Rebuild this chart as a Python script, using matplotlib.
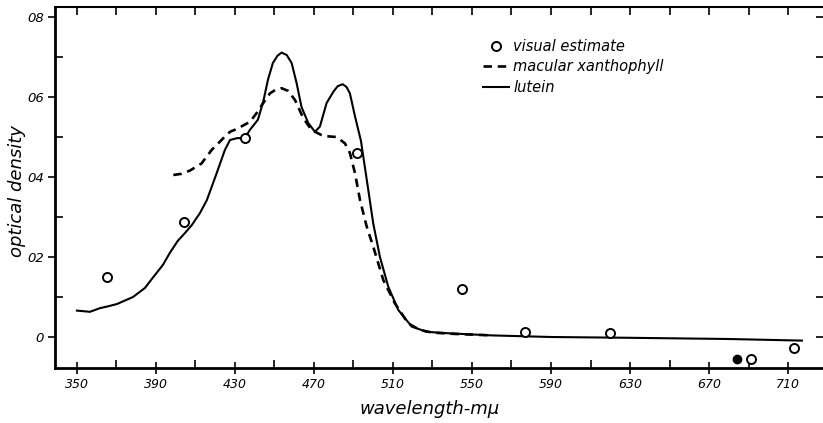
import numpy as np
import matplotlib.pyplot as plt
from matplotlib.ticker import FixedLocator

# lutein absorption (solid)
lutein_wl = [350, 356.6, 361.6, 366, 370.3, 378.4, 384.4, 388.7, 393.5, 397, 401,
             404.7, 408.2, 412.3, 415.8, 420.7, 424.9, 427.5, 430.9, 435, 437.6,
             441.6, 444.3, 446.7, 449.2, 451.5, 453.6, 456.2, 458.7, 461.2, 463.7,
             467.1, 470.5, 473, 476.4, 479.8, 482, 484.5, 486.5, 488.2, 490.8, 493.8,
             497.5, 500, 503.4, 507.6, 512.7, 519.5, 527, 539, 560, 590, 630, 680, 717]
lutein_od = [0.066, 0.063, 0.072, 0.077, 0.0825, 0.10, 0.1225, 0.15, 0.18, 0.21, 0.24,
             0.26, 0.28, 0.31, 0.3425, 0.409, 0.4675, 0.4925, 0.497, 0.4975, 0.518,
             0.543, 0.588, 0.643, 0.685, 0.703, 0.711, 0.705, 0.685, 0.635, 0.575,
             0.535, 0.513, 0.526, 0.585, 0.613, 0.627, 0.632, 0.625, 0.609, 0.551, 0.49,
             0.3675, 0.284, 0.20, 0.126, 0.0675, 0.026, 0.013, 0.009, 0.004, 0.0, -0.002, -0.005, -0.009]

# macular xanthophyll (dashed)
xanth_wl = [398.8, 403, 407.2, 413.1, 418.2, 424.1, 427.5, 430.9, 437.6, 441, 444.3,
            447.7, 450.5, 453.6, 457, 460.4, 464.6, 468.8, 474.7, 481.5, 485.7, 488.2,
            490.8, 493.3, 496.7, 500, 505.1, 511, 517.7, 523.7, 530, 540, 560]
xanth_od = [0.405, 0.408, 0.416, 0.434, 0.4675, 0.497, 0.513, 0.52, 0.538, 0.56, 0.585,
            0.609, 0.618, 0.622, 0.615, 0.5925, 0.547, 0.5175, 0.5025, 0.50, 0.484, 0.46,
            0.409, 0.3425, 0.276, 0.226, 0.1425, 0.084, 0.034, 0.0175, 0.011, 0.008, 0.004]

# visual estimate points
visual_wl = [365, 404, 435, 492, 545, 577, 620, 691, 713]
visual_od = [0.15, 0.288, 0.498, 0.46, 0.12, 0.013, 0.01, -0.055, -0.028]
filled_wl = [684]
filled_od = [-0.055]

x_ticks = [350, 390, 430, 470, 510, 550, 590, 630, 670, 710]
y_ticks = [0, 0.2, 0.4, 0.6, 0.8]
y_tick_labels = ["0", "02", "04", "06", "08"]

plt.rcParams['font.family'] = 'DejaVu Sans'
plt.rcParams['font.style'] = 'italic'

fig = plt.figure(figsize=(8.23, 4.23), dpi=100)
ax = fig.add_axes([55/823, 55/423, 768/823, 361/423])

ax.plot(lutein_wl, lutein_od, color='k', lw=1.5, label='lutein')
ax.plot(xanth_wl, xanth_od, color='k', lw=1.9, dashes=(3.2, 2.2), label='macular xanthophyll')
ax.plot(visual_wl, visual_od, 'o', ms=6.5, mfc='white', mec='k', mew=1.4, zorder=3,
        label='visual estimate')
ax.plot(filled_wl, filled_od, 'o', ms=6, color='k', zorder=3)

ax.set_xlim(338.9, 727.7)
ax.set_ylim(-0.0775, 0.825)

ax.xaxis.set_major_locator(FixedLocator(x_ticks))
ax.xaxis.set_minor_locator(FixedLocator([370 + 40*i for i in range(9)]))
ax.yaxis.set_major_locator(FixedLocator(y_ticks))
ax.yaxis.set_minor_locator(FixedLocator([0.1, 0.3, 0.5, 0.7]))
ax.set_yticklabels(y_tick_labels)

ax.tick_params(axis='x', which='major', direction='inout', length=8, width=1.2,
               labelsize=9, pad=3)
ax.tick_params(axis='x', which='minor', direction='in', length=6, width=1.2)
ax.tick_params(axis='y', which='major', direction='out', length=5, width=1.2,
               labelsize=9.5, pad=3)
ax.tick_params(axis='y', which='minor', direction='in', length=6, width=1.2)

ax.spines['left'].set_linewidth(2)
ax.spines['bottom'].set_linewidth(2)
ax.spines['top'].set_linewidth(1.5)
ax.spines['right'].set_visible(False)

# ticks along top and right edge
top = ax.secondary_xaxis('top')
top.xaxis.set_major_locator(FixedLocator(list(range(350, 711, 20))))
top.tick_params(direction='in', length=6, width=1.2, labeltop=False)
top.spines['top'].set_visible(False)
right = ax.secondary_yaxis('right')
right.yaxis.set_major_locator(FixedLocator([0.1*i for i in range(9)]))
right.tick_params(direction='in', length=5, width=1.2, labelright=False)
right.spines['right'].set_visible(False)

ax.set_xlabel('wavelength-mμ', fontsize=13, va='center')
ax.xaxis.set_label_coords((430-55)/768, -(409-368)/361)
ax.set_ylabel('optical density', fontsize=13, va='center')
ax.yaxis.set_label_coords(-(55-17)/768, 0.49)

h, l = ax.get_legend_handles_labels()
order = [2, 1, 0]
ax.legend([h[i] for i in order], [l[i] for i in order], loc='upper left',
          bbox_to_anchor=(477/823, 1-33/423), bbox_transform=fig.transFigure,
          frameon=False, fontsize=10.5, handlelength=1.8, handletextpad=0.3,
          labelspacing=0.38, numpoints=1, borderaxespad=0)

fig.savefig('out.png', dpi=100)
